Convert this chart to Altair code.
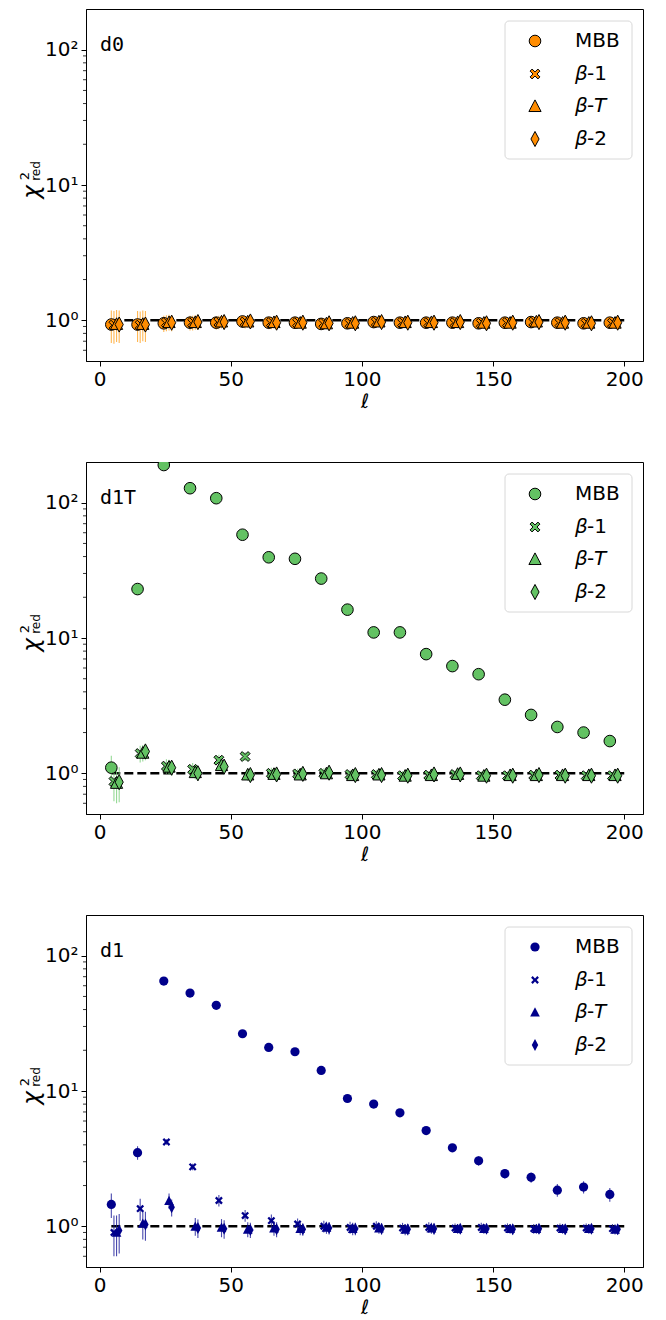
import altair as alt
import pandas as pd

# ---------------- data ----------------
ELL = [4.5, 14.5, 24.5, 34.5, 44.5, 54.5, 64.5, 74.5, 84.5, 94.5,
       104.5, 114.5, 124.5, 134.5, 144.5, 154.5, 164.5, 174.5, 184.5, 194.5]
SERIES = ["MBB", "β-1", "β-T", "β-2"]
OFFSETS = [0, 1, 2, 3]

# d0
D0_MBB = [0.93, 0.93, 0.95, 0.96, 0.96, 0.98, 0.96, 0.96, 0.94, 0.95,
          0.97, 0.96, 0.96, 0.96, 0.95, 0.96, 0.97, 0.96, 0.95, 0.96]
D0_B1 = [0.92, 0.92, 0.96, 0.96, 0.97, 0.97, 0.96, 0.96, 0.95, 0.95,
         0.97, 0.96, 0.96, 0.96, 0.95, 0.96, 0.97, 0.96, 0.95, 0.95]
D0_BT = [0.94, 0.94, 0.97, 0.97, 0.98, 0.98, 0.97, 0.96, 0.95, 0.96,
         0.98, 0.97, 0.97, 0.97, 0.96, 0.96, 0.98, 0.96, 0.96, 0.96]
D0_B2 = [0.93, 0.93, 0.96, 0.97, 0.97, 0.98, 0.96, 0.96, 0.95, 0.95,
         0.97, 0.96, 0.96, 0.97, 0.95, 0.96, 0.97, 0.96, 0.95, 0.96]
D0_ERR = [0.25, 0.24, 0.13, 0.12, 0.11, 0.10, 0.10, 0.09, 0.09, 0.08,
          0.08, 0.08, 0.07, 0.07, 0.07, 0.07, 0.06, 0.06, 0.06, 0.06]

# d1T
D1T_MBB = [1.10, 23.0, 190.0, 128.0, 108.0, 58.0, 39.5, 38.5, 27.5, 16.2,
           11.0, 11.0, 7.6, 6.2, 5.4, 3.5, 2.7, 2.2, 2.0, 1.73]
D1T_MBB_ERR = [0.25, 0.8, 3.0, 2.0, 1.5, 0.9, 0.6, 0.5, 0.4, 0.3,
               0.22, 0.2, 0.16, 0.14, 0.12, 0.10, 0.10, 0.09, 0.10, 0.12]
D1T_B1 = [0.87, 1.40, 1.13, 1.07, 1.25, 1.33, 1.00, 0.99, 1.00, 0.98,
          0.98, 0.96, 0.97, 0.98, 0.96, 0.96, 0.97, 0.97, 0.96, 0.96]
D1T_BT = [0.85, 1.42, 1.12, 1.02, 1.15, 0.98, 0.99, 0.98, 1.00, 0.97,
          0.98, 0.96, 0.97, 0.99, 0.96, 0.97, 0.97, 0.97, 0.97, 0.97]
D1T_B2 = [0.86, 1.45, 1.10, 1.00, 1.12, 0.97, 0.98, 0.99, 1.01, 0.97,
          0.97, 0.96, 0.98, 0.98, 0.96, 0.96, 0.97, 0.96, 0.96, 0.96]
D1T_ERR = [0.25, 0.20, 0.14, 0.12, 0.12, 0.10, 0.10, 0.09, 0.09, 0.08,
           0.08, 0.08, 0.07, 0.07, 0.07, 0.07, 0.06, 0.06, 0.06, 0.06]

# d1
D1_MBB = [1.45, 3.5, 65.0, 53.0, 43.0, 26.5, 21.0, 19.5, 14.2, 8.8,
          8.0, 6.9, 5.1, 3.8, 3.05, 2.45, 2.3, 1.85, 1.95, 1.72]
D1_MBB_ERR = [0.30, 0.40, 1.5, 1.2, 1.0, 0.7, 0.5, 0.45, 0.35, 0.25,
              0.22, 0.20, 0.17, 0.15, 0.25, 0.20, 0.20, 0.20, 0.20, 0.20]
D1_B1 = [0.90, 1.35, 4.2, 2.75, 1.55, 1.20, 1.10, 1.04, 1.00, 0.98,
         1.00, 0.97, 0.98, 0.97, 0.98, 0.97, 0.96, 0.97, 0.97, 0.96]
D1_BT = [0.90, 1.05, 1.55, 1.00, 0.98, 0.95, 0.97, 0.96, 0.98, 0.96,
         0.97, 0.95, 0.97, 0.96, 0.96, 0.96, 0.96, 0.96, 0.96, 0.95]
D1_B2 = [0.93, 1.03, 1.38, 0.97, 0.96, 0.94, 0.95, 0.95, 0.97, 0.96,
         0.96, 0.95, 0.96, 0.96, 0.96, 0.95, 0.96, 0.95, 0.96, 0.95]
D1_ERR = [0.30, 0.25, 0.20, 0.15, 0.15, 0.12, 0.12, 0.10, 0.10, 0.10,
          0.09, 0.09, 0.09, 0.08, 0.08, 0.08, 0.08, 0.08, 0.08, 0.08]

X_TICKS = [0, 50, 100, 150, 200]
Y_TICKS = [1, 10, 100]
Y_MINOR = [0.6, 0.7, 0.8, 0.9, 2, 3, 4, 5, 6, 7, 8, 9, 20, 30, 40, 50, 60, 70, 80, 90]
REF_LINE_X = [4.5, 200]
REF_LINE_Y = [1, 1]

# legend label pieces: (text, italic)
LEGEND_LABELS = [
    [("MBB", False)],
    [("β", True), ("-1", False)],
    [("β", True), ("-", False), ("T", True)],
    [("β", True), ("-2", False)],
]

# ---------------- styling ----------------
X_DOMAIN = [-5.15, 207.15]
Y_DOMAIN = [0.5, 200]
W, H = 557, 352
FONT = "DejaVu Sans"

X_PATH = ("M-0.85,-0.5 L-0.5,-0.85 L0,-0.35 L0.5,-0.85 L0.85,-0.5 L0.35,0 "
          "L0.85,0.5 L0.5,0.85 L0,0.35 L-0.5,0.85 L-0.85,0.5 L-0.35,0 Z")
TRI_PATH = "M0,-1.05 L1.05,0.95 L-1.05,0.95 Z"
DIA_PATH = "M0,-1.3 L0.7,0 L0,1.3 L-0.7,0 Z"
SHAPES = ["circle", X_PATH, TRI_PATH, DIA_PATH]

LEG_X0, LEG_X1, LEG_Y0, LEG_Y1 = 419, 546, 12, 150
LEG_SYM_X = 449
LEG_TXT_X = 489
LEG_ROWS = [32, 65, 97, 130]


def text_layer(one, txt, x, y, size=20, italic=False, font=FONT, angle=None,
               align="left", baseline="middle"):
    kw = dict(text=txt, font=font, fontSize=size, align=align,
              baseline=baseline, color="black")
    if italic:
        kw["fontStyle"] = "italic"
    if angle is not None:
        kw["angle"] = angle
    return alt.Chart(one).mark_text(**kw).encode(x=alt.value(x), y=alt.value(y))


def make_panel(label, color, err_color, err_opacity, stroke_w, size, vals, errs):
    rows = []
    for s, off in zip(SERIES, OFFSETS):
        for l, v, e in zip(ELL, vals[s], errs[s]):
            rows.append({"series": s, "x": l + off, "y": v,
                         "lo": max(v - e, 0.5), "hi": v + e})
    df = pd.DataFrame(rows)

    xscale = alt.Scale(domain=X_DOMAIN, nice=False, zero=False)
    yscale = alt.Scale(type="log", domain=Y_DOMAIN, nice=False)
    xaxis = alt.Axis(values=X_TICKS, title="ℓ", titleFontStyle="italic",
                     titlePadding=2, grid=False, labelFlush=False)
    yaxis = alt.Axis(values=Y_TICKS, title=None, grid=False,
                     labelExpr="datum.value == 1 ? '10⁰' : (datum.value == 10 ? '10¹' : '10²')")

    minor = alt.Chart(pd.DataFrame({"m": Y_MINOR})).mark_rule(
        color="black", strokeWidth=0.8
    ).encode(
        y=alt.Y("m:Q", scale=yscale, axis=yaxis),
        x=alt.value(-3), x2=alt.value(0),
    )

    line_df = pd.DataFrame({"x": REF_LINE_X, "y": REF_LINE_Y})
    ref = alt.Chart(line_df).mark_line(
        color="black", strokeWidth=2.6, strokeDash=[9, 4], clip=True
    ).encode(
        x=alt.X("x:Q", scale=xscale, axis=xaxis),
        y=alt.Y("y:Q", scale=yscale, axis=yaxis),
    )

    err = alt.Chart(df).mark_rule(
        color=err_color, opacity=err_opacity, strokeWidth=1.1, clip=True
    ).encode(
        x=alt.X("x:Q", scale=xscale, axis=xaxis),
        y=alt.Y("lo:Q", scale=yscale, axis=yaxis),
        y2="hi:Q",
    )

    pts = alt.Chart(df).mark_point(
        filled=True, fill=color, stroke="black", strokeWidth=stroke_w,
        opacity=1, fillOpacity=1, size=size, clip=True
    ).encode(
        x=alt.X("x:Q", scale=xscale, axis=xaxis),
        y=alt.Y("y:Q", scale=yscale, axis=yaxis),
        shape=alt.Shape("series:N", scale=alt.Scale(domain=SERIES, range=SHAPES),
                        legend=None),
    )

    one = pd.DataFrame({"k": [0]})
    layers = [minor, ref, err, pts]

    # panel label
    layers.append(text_layer(one, label, 14, 42, font="DejaVu Sans Mono",
                             baseline="alphabetic"))

    # y title: chi^2_red
    mid = H * 0.52
    layers.append(text_layer(one, "χ", -54, mid, size=23, italic=True, angle=270,
                             align="center"))
    layers.append(text_layer(one, "2", -61, mid - 16, size=13, angle=270,
                             align="center"))
    layers.append(text_layer(one, "red", -50, mid - 21, size=12, angle=270,
                             align="center"))

    # manual legend
    box = alt.Chart(one).mark_rect(
        fill="white", stroke="#d4d4d4", strokeWidth=1, cornerRadius=4, opacity=0.9
    ).encode(x=alt.value(LEG_X0), x2=alt.value(LEG_X1),
             y=alt.value(LEG_Y0), y2=alt.value(LEG_Y1))
    layers.append(box)
    for shp, yrow, parts in zip(SHAPES, LEG_ROWS, LEGEND_LABELS):
        sym = alt.Chart(one).mark_point(
            filled=True, fill=color, stroke="black", strokeWidth=stroke_w,
            opacity=1, fillOpacity=1
        ).encode(x=alt.value(LEG_SYM_X), y=alt.value(yrow),
                 shape=alt.value(shp), size=alt.value(size))
        layers.append(sym)
        xpos = LEG_TXT_X
        for txt, ital in parts:
            layers.append(text_layer(one, txt, xpos, yrow, italic=ital))
            if txt == "β":
                xpos += 12
            elif txt == "-":
                xpos += 7
            else:
                xpos += 0

    return alt.layer(*layers).properties(width=W, height=H)


p1 = make_panel("d0", "#FF8C00", "#FF9F1A", 0.75, 1, 135,
                {"MBB": D0_MBB, "β-1": D0_B1, "β-T": D0_BT, "β-2": D0_B2},
                {"MBB": D0_ERR, "β-1": D0_ERR, "β-T": D0_ERR, "β-2": D0_ERR})
p2 = make_panel("d1T", "#63C263", "#7CCF7C", 0.8, 1, 135,
                {"MBB": D1T_MBB, "β-1": D1T_B1, "β-T": D1T_BT, "β-2": D1T_B2},
                {"MBB": D1T_MBB_ERR, "β-1": D1T_ERR, "β-T": D1T_ERR, "β-2": D1T_ERR})
p3 = make_panel("d1", "#00008B", "#1a1a99", 0.8, 0, 85,
                {"MBB": D1_MBB, "β-1": D1_B1, "β-T": D1_BT, "β-2": D1_B2},
                {"MBB": D1_MBB_ERR, "β-1": D1_ERR, "β-T": D1_ERR, "β-2": D1_ERR})

chart = alt.vconcat(p1, p2, p3, spacing=49).configure_view(
    stroke="black", strokeWidth=1
).configure_axis(
    labelFont=FONT, labelFontSize=20, labelColor="black",
    titleFont=FONT, titleFontSize=20, titleColor="black", titleFontWeight="normal",
    tickColor="black", domainColor="black", tickSize=5, labelPadding=3,
    grid=False,
).properties(
    padding={"left": 10, "top": 0, "right": 5, "bottom": 0},
    background="white",
)

chart.save("out.html", embed_options={"renderer": "svg", "actions": False})
